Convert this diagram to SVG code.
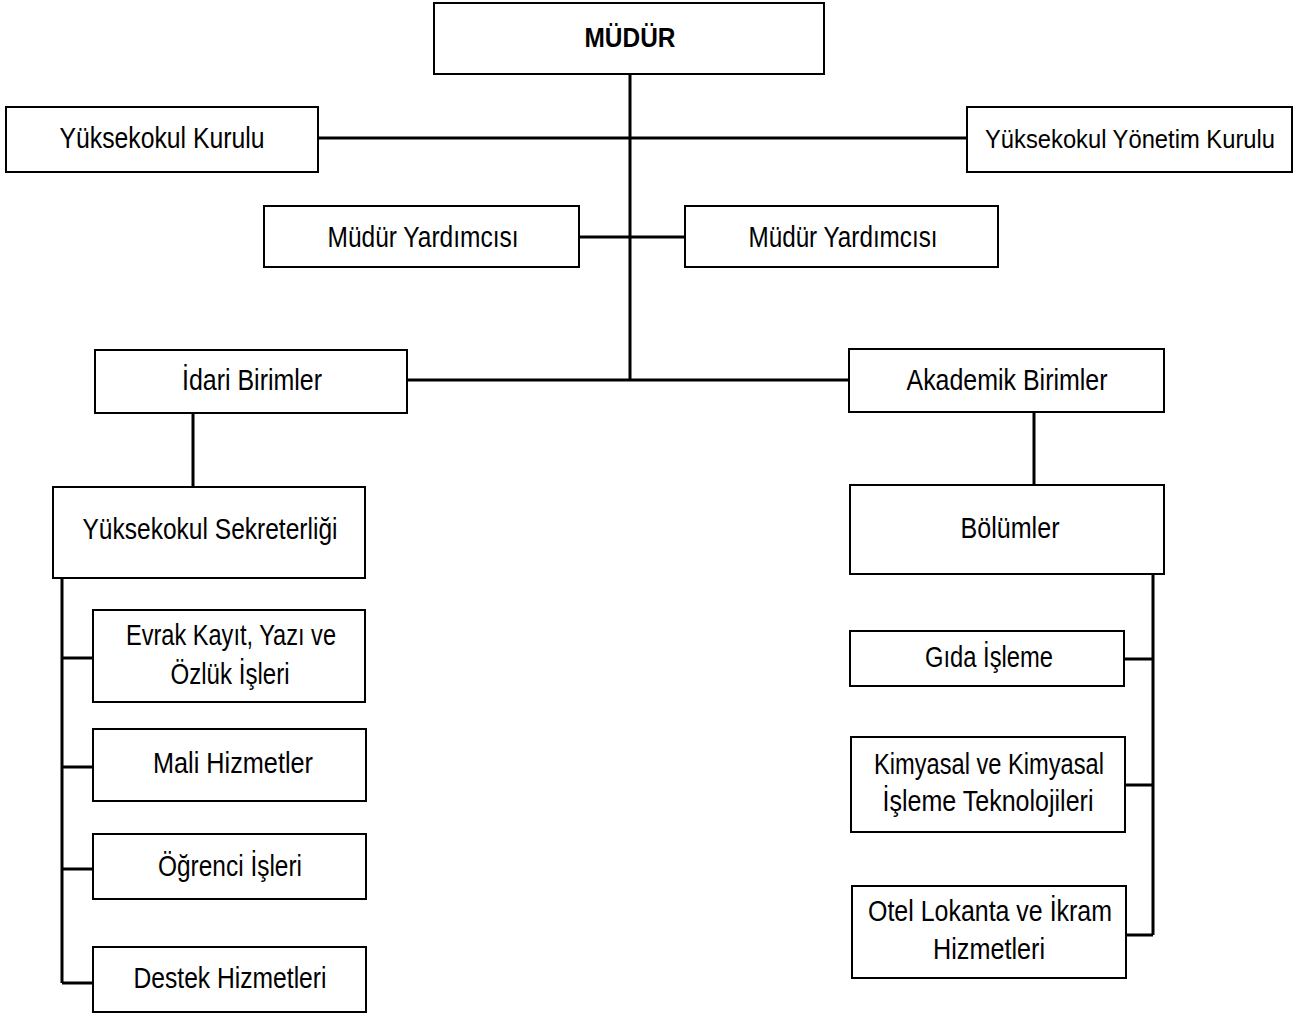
<svg xmlns="http://www.w3.org/2000/svg" width="1300" height="1017" viewBox="0 0 1300 1017">
<style>
.box{fill:#fff;stroke:#000;stroke-width:2}
.t{font-family:"Liberation Sans",Arial,sans-serif;font-size:29px;fill:#000;text-anchor:middle}
.b{font-weight:bold;font-size:27px}
.s{font-size:26px}
.c{fill:none;stroke:#000;stroke-width:3}
</style>
<rect width="1300" height="1017" fill="#fff"/>
<g id="connectors">
<path class="c" d="M630 74V380M318 138H967M579 237H685M407 380H849"/>
<path class="c" d="M193 413V487M62 578V983M62 658H93M62 767H93M62 869H93M62 983H93"/>
<path class="c" d="M1034 412V485M1153 574V935M1124 659H1153M1124 785H1153M1124 935H1153"/>
</g>
<g id="mudur"><rect class="box" x="434" y="3" width="390" height="71"/><text class="t b" x="630" y="47" textLength="91" lengthAdjust="spacingAndGlyphs">MÜDÜR</text></g>
<g id="yuksekokul-kurulu"><rect class="box" x="6" y="107" width="312" height="65"/><text class="t" x="162" y="148" textLength="205" lengthAdjust="spacingAndGlyphs">Yüksekokul Kurulu</text></g>
<g id="yonetim-kurulu"><rect class="box" x="967" y="107" width="325" height="65"/><text class="t s" x="1130" y="148" textLength="290" lengthAdjust="spacingAndGlyphs">Yüksekokul Yönetim Kurulu</text></g>
<g id="mudur-yard-1"><rect class="box" x="264" y="206" width="315" height="61"/><text class="t" x="423" y="247" textLength="191" lengthAdjust="spacingAndGlyphs">Müdür Yardımcısı</text></g>
<g id="mudur-yard-2"><rect class="box" x="685" y="206" width="313" height="61"/><text class="t" x="843" y="247" textLength="189" lengthAdjust="spacingAndGlyphs">Müdür Yardımcısı</text></g>
<g id="idari"><rect class="box" x="95" y="350" width="312" height="63"/><text class="t" x="252" y="390" textLength="140" lengthAdjust="spacingAndGlyphs">İdari Birimler</text></g>
<g id="akademik"><rect class="box" x="849" y="349" width="315" height="63"/><text class="t" x="1007" y="390" textLength="201" lengthAdjust="spacingAndGlyphs">Akademik Birimler</text></g>
<g id="sekreterlik"><rect class="box" x="53" y="487" width="312" height="91"/><text class="t" x="210" y="539" textLength="255" lengthAdjust="spacingAndGlyphs">Yüksekokul Sekreterliği</text></g>
<g id="evrak"><rect class="box" x="93" y="610" width="272" height="92"/><text class="t" x="231" y="645" textLength="210" lengthAdjust="spacingAndGlyphs">Evrak Kayıt, Yazı ve</text><text class="t" x="230" y="684" textLength="119" lengthAdjust="spacingAndGlyphs">Özlük İşleri</text></g>
<g id="mali"><rect class="box" x="93" y="729" width="273" height="72"/><text class="t" x="233" y="773" textLength="160" lengthAdjust="spacingAndGlyphs">Mali Hizmetler</text></g>
<g id="ogrenci"><rect class="box" x="93" y="834" width="273" height="65"/><text class="t" x="230" y="876" textLength="144" lengthAdjust="spacingAndGlyphs">Öğrenci İşleri</text></g>
<g id="destek"><rect class="box" x="93" y="947" width="273" height="65"/><text class="t" x="230" y="988" textLength="193" lengthAdjust="spacingAndGlyphs">Destek Hizmetleri</text></g>
<g id="bolumler"><rect class="box" x="850" y="485" width="314" height="89"/><text class="t" x="1010" y="538" textLength="99" lengthAdjust="spacingAndGlyphs">Bölümler</text></g>
<g id="gida"><rect class="box" x="850" y="631" width="274" height="55"/><text class="t" x="989" y="667" textLength="128" lengthAdjust="spacingAndGlyphs">Gıda İşleme</text></g>
<g id="kimyasal"><rect class="box" x="851" y="737" width="274" height="95"/><text class="t" x="989" y="774" textLength="230" lengthAdjust="spacingAndGlyphs">Kimyasal ve Kimyasal</text><text class="t" x="988" y="811" textLength="211" lengthAdjust="spacingAndGlyphs">İşleme Teknolojileri</text></g>
<g id="otel"><rect class="box" x="852" y="886" width="274" height="92"/><text class="t" x="990" y="921" textLength="244" lengthAdjust="spacingAndGlyphs">Otel Lokanta ve İkram</text><text class="t" x="989" y="959" textLength="112" lengthAdjust="spacingAndGlyphs">Hizmetleri</text></g>
</svg>
